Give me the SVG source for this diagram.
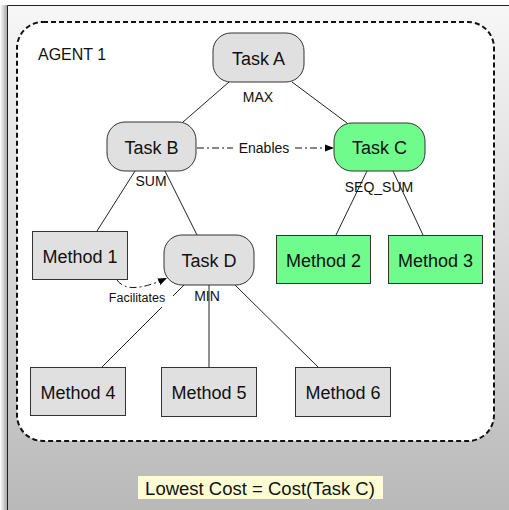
<svg xmlns="http://www.w3.org/2000/svg" width="509" height="510" viewBox="0 0 509 510">
<defs>
<linearGradient id="bg" x1="0" y1="0" x2="0" y2="1">
<stop offset="0" stop-color="#f7f7f7"/>
<stop offset="1" stop-color="#b9b9b9"/>
</linearGradient>
<linearGradient id="sh" x1="0" y1="0" x2="1" y2="0">
<stop offset="0" stop-color="#ffffff"/>
<stop offset="1" stop-color="#a8a8a8"/>
</linearGradient>
<marker id="ah" viewBox="0 0 10 10" refX="10" refY="5" markerWidth="9" markerHeight="9" markerUnits="userSpaceOnUse" orient="auto">
<path d="M0,1 L10,5 L0,9 Z" fill="#000"/>
</marker>
<style>
text{font-family:"Liberation Sans",Arial,sans-serif;fill:#111}
.node{stroke:#333;stroke-width:1}
.gray{fill:#e0e0e0}
.green{fill:#70fc8c}
.nt{font-size:18px;text-anchor:middle}
.lbl{font-size:14px;text-anchor:middle}
.edge{stroke:#222;stroke-width:1;fill:none}
.dd{stroke:#111;stroke-width:1;fill:none;stroke-dasharray:7,3,2,3}
</style>
</defs>
<rect x="0" y="0" width="509" height="510" fill="#ffffff"/>
<rect x="0" y="5" width="7" height="505" fill="url(#sh)"/>
<rect x="7" y="5" width="502" height="505" fill="url(#bg)"/>
<path d="M7.5,510 V5.5 H509" fill="none" stroke="#222" stroke-width="1"/>
<rect x="17" y="22" width="477" height="419" rx="26" ry="26" fill="#ffffff" stroke="#111" stroke-width="2" stroke-dasharray="5,3"/>
<text x="38" y="60" style="font-size:16px">AGENT 1</text>

<g id="connectors">
<line class="edge" x1="229" y1="82" x2="183" y2="122"/>
<line class="edge" x1="292" y1="82" x2="347" y2="123"/>
<line class="edge" x1="135" y1="171" x2="97" y2="231"/>
<line class="edge" x1="165" y1="171" x2="197" y2="235"/>
<line class="edge" x1="367" y1="171" x2="336" y2="235"/>
<line class="edge" x1="393" y1="171" x2="423" y2="235"/>
<line class="edge" x1="184" y1="285" x2="102" y2="367"/>
<line class="edge" x1="209" y1="285" x2="209" y2="367" stroke="#555"/>
<line class="edge" x1="235" y1="285" x2="318" y2="367"/>
<line class="dd" x1="197" y1="148" x2="233" y2="148"/>
<line class="dd" x1="295" y1="148" x2="334" y2="148" marker-end="url(#ah)"/>
<path class="dd" d="M117,280 Q128,296 167,278" marker-end="url(#ah)"/>
<rect x="106" y="292" width="67" height="15" fill="#ffffff"/>
<text class="lbl" x="264" y="153">Enables</text>
<text x="137" y="302" style="font-size:12.5px;text-anchor:middle">Facilitates</text>
<text class="lbl" x="258" y="102">MAX</text>
<text class="lbl" x="151" y="186">SUM</text>
<text class="lbl" x="379" y="192">SEQ_SUM</text>
<text class="lbl" x="207" y="301">MIN</text>
</g>

<g id="taskA"><rect class="node gray" x="213" y="33" width="91" height="49" rx="18"/><text class="nt" x="258.5" y="64.5">Task A</text></g>
<g id="taskB"><rect class="node gray" x="107" y="122" width="89" height="49" rx="18"/><text class="nt" x="151.5" y="153.5">Task B</text></g>
<g id="taskC"><rect class="node green" x="334" y="123" width="91" height="48" rx="18"/><text class="nt" x="379.5" y="154">Task C</text></g>
<g id="taskD"><rect class="node gray" x="164" y="235" width="90" height="50" rx="18"/><text class="nt" x="209" y="266.5">Task D</text></g>
<g id="method1"><rect class="node gray" x="32.5" y="231.5" width="95" height="48"/><text class="nt" x="80" y="262.5">Method 1</text></g>
<g id="method2"><rect class="node green" x="276.5" y="235.5" width="94" height="48"/><text class="nt" x="323.5" y="266.5">Method 2</text></g>
<g id="method3"><rect class="node green" x="388.5" y="235.5" width="94" height="48"/><text class="nt" x="435.5" y="266.5">Method 3</text></g>
<g id="method4"><rect class="node gray" x="30.5" y="367.5" width="95" height="48"/><text class="nt" x="78" y="398.5">Method 4</text></g>
<g id="method5"><rect class="node gray" x="161.5" y="367.5" width="95" height="49"/><text class="nt" x="209" y="399">Method 5</text></g>
<g id="method6"><rect class="node gray" x="295.5" y="367.5" width="95" height="49"/><text class="nt" x="343" y="399">Method 6</text></g>

<g id="result"><rect x="138" y="476" width="245" height="23" fill="#fdfdd4"/><text x="260" y="495" style="font-size:18.5px;text-anchor:middle">Lowest Cost = Cost(Task C)</text></g>
</svg>
